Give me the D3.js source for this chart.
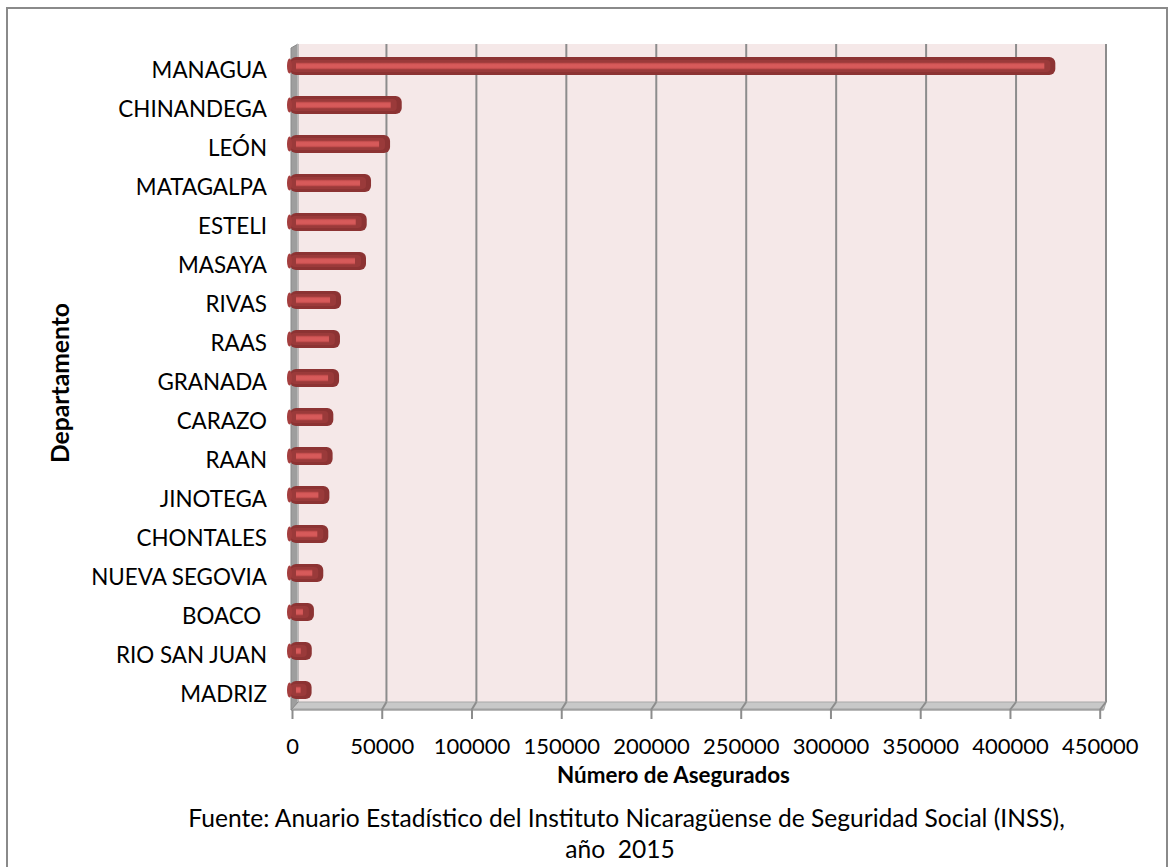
<!DOCTYPE html>
<html><head><meta charset="utf-8">
<script src="https://cdn.jsdelivr.net/npm/d3@7/dist/d3.min.js"></script>
<style>
html,body{margin:0;padding:0;background:#fff;}
svg text{font-family:"Lato",sans-serif;fill:#000;}
</style></head>
<body><svg id="chart" width="1175" height="867"></svg>
<script>
const categories = ["MANAGUA","CHINANDEGA","LEÓN","MATAGALPA","ESTELI","MASAYA","RIVAS","RAAS","GRANADA","CARAZO","RAAN","JINOTEGA","CHONTALES","NUEVA SEGOVIA","BOACO ","RIO SAN JUAN","MADRIZ"];
const values = [424000,60000,53500,42900,40500,40100,26200,25600,25100,21900,21500,19700,19100,16300,11100,9900,9800];
const tickValues = [0,50000,100000,150000,200000,250000,300000,350000,400000,450000];
const xTitle = "Número de Asegurados";
const yTitle = "Departamento";
const sourceLines = ["Fuente: Anuario Estadístico del Instituto Nicaragüense de Seguridad Social (INSS),","año  2015"];

const svg = d3.select("#chart");
svg.append("rect").attr("x",7).attr("y",8).attr("width",1160).attr("height",880)
  .attr("fill","#fff").attr("stroke","#8a8a8a").attr("stroke-width",2);

const backL = 298, backR = 1106, wallTop = 44, backB = 702, frontB = 710;
const xBack = d3.scaleLinear().domain([0,450000]).range([296.5,1106]);
const xFront = d3.scaleLinear().domain([0,450000]).range([292,1099.7]);
const xBar = d3.scaleLinear().domain([0,450000]).range([294,1102]);
const y = d3.scaleBand().domain(categories).range([46.5,709.5]);

function fit(sel, target){
  const base = +sel.attr("font-size");
  const w = sel.node().getComputedTextLength();
  if (w > 0) sel.attr("font-size", (base*target/w).toFixed(2));
  return +sel.attr("font-size");
}

svg.append("rect").attr("x",backL).attr("y",wallTop).attr("width",backR-backL).attr("height",backB-wallTop).attr("fill","#f5e8e8");
svg.append("g").selectAll("line").data(tickValues.slice(1)).join("line")
  .attr("x1",d=>xBack(d)).attr("x2",d=>xBack(d)).attr("y1",wallTop).attr("y2",backB)
  .attr("stroke","#8c8c8c").attr("stroke-width",2);
svg.append("path").attr("d",`M${backL},${backB}L${backR},${backB}L${xFront(450000)+4},${frontB}L${291},${frontB}Z`)
  .attr("fill","#c8c8c8").attr("stroke","#a8a8a8").attr("stroke-width",1);
svg.append("line").attr("x1",291).attr("x2",xFront(450000)+4).attr("y1",frontB-0.5).attr("y2",frontB-0.5).attr("stroke","#a0a0a0").attr("stroke-width",2);
svg.append("g").selectAll("line").data(tickValues.slice(1)).join("line")
  .attr("x1",d=>xBack(d)).attr("x2",d=>xFront(d)).attr("y1",backB).attr("y2",frontB)
  .attr("stroke","#8c8c8c").attr("stroke-width",2);
svg.append("path").attr("d",`M291,48L${backL},${wallTop}L${backL},${backB}L291,${frontB}Z`)
  .attr("fill","#9e9e9e").attr("stroke","#8a8a8a").attr("stroke-width",1);
svg.append("line").attr("x1",backL-0.5).attr("x2",backL-0.5).attr("y1",wallTop).attr("y2",backB).attr("stroke","#b8b8b8").attr("stroke-width",1);

const axis = d3.axisBottom(xFront).tickValues(tickValues).tickSize(9).tickPadding(19).tickFormat(d3.format("d"));
const ax = svg.append("g").attr("transform",`translate(0,${frontB})`).call(axis);
ax.select(".domain").remove();
ax.selectAll(".tick line").attr("stroke","#8c8c8c").attr("stroke-width",2);
ax.selectAll(".tick text").attr("font-size",22).attr("font-family","Lato").attr("fill","#000").attr("dy","0.71em");

const defs = svg.append("defs");
const g = defs.append("linearGradient").attr("id","stripe").attr("x1",0).attr("x2",0).attr("y1",0).attr("y2",1);
[[0,"#b84646"],[0.3,"#d75a5a"],[0.7,"#d75a5a"],[1,"#b84646"]].forEach(s=>g.append("stop").attr("offset",s[0]).attr("stop-color",s[1]));
const bh = 18;
const bars = svg.append("g").selectAll("g").data(categories).join("g");
bars.append("rect")
  .attr("x",xBar(0)-4).attr("y",d=>y(d)+y.bandwidth()/2-bh/2)
  .attr("width",(d,i)=>xBar(values[i])-xBar(0)+4).attr("height",bh)
  .attr("rx",6).attr("ry",6).attr("fill","#8c3333");
bars.append("rect")
  .attr("x",xBar(0)-3).attr("y",d=>y(d)+y.bandwidth()/2-bh/2+3)
  .attr("width",(d,i)=>Math.max(0,xBar(values[i])-xBar(0)-2)).attr("height",bh-6)
  .attr("rx",4).attr("fill","#9a3a3a");
bars.append("rect")
  .attr("x",296).attr("y",d=>y(d)+y.bandwidth()/2-3.3)
  .attr("width",(d,i)=>Math.max(2,xBar(values[i])-11-296)).attr("height",6.6)
  .attr("fill","url(#stripe)");
bars.append("ellipse")
  .attr("cx",xBar(0)-4.5).attr("cy",d=>y(d)+y.bandwidth()/2).attr("rx",2.5).attr("ry",7.5)
  .attr("fill","#a43e3e");

svg.append("g").selectAll("text").data(categories).join("text")
  .attr("x",267).attr("y",d=>y(d)+y.bandwidth()/2+12)
  .attr("text-anchor","end").attr("font-size",22.4).style("white-space","pre").text(d=>d);

const xt = svg.append("text").attr("x",673.5).attr("y",783).attr("text-anchor","middle")
  .attr("font-size",19).attr("font-weight","bold").text(xTitle);
fit(xt, 233);
const yt = svg.append("text").attr("transform","translate(69,383) rotate(-90)").attr("text-anchor","middle")
  .attr("font-size",19).attr("font-weight","bold").text(yTitle);
fit(yt, 160);
const src = svg.append("g").selectAll("text").data(sourceLines).join("text")
  .attr("x",(d,i)=>i===0?626.5:620).attr("y",(d,i)=>827+i*31).attr("text-anchor","middle")
  .attr("font-size",22).style("white-space","pre").text(d=>d);
const fs = fit(d3.select(src.nodes()[0]), 877);
d3.select(src.nodes()[1]).attr("font-size", fs);
</script></body></html>
